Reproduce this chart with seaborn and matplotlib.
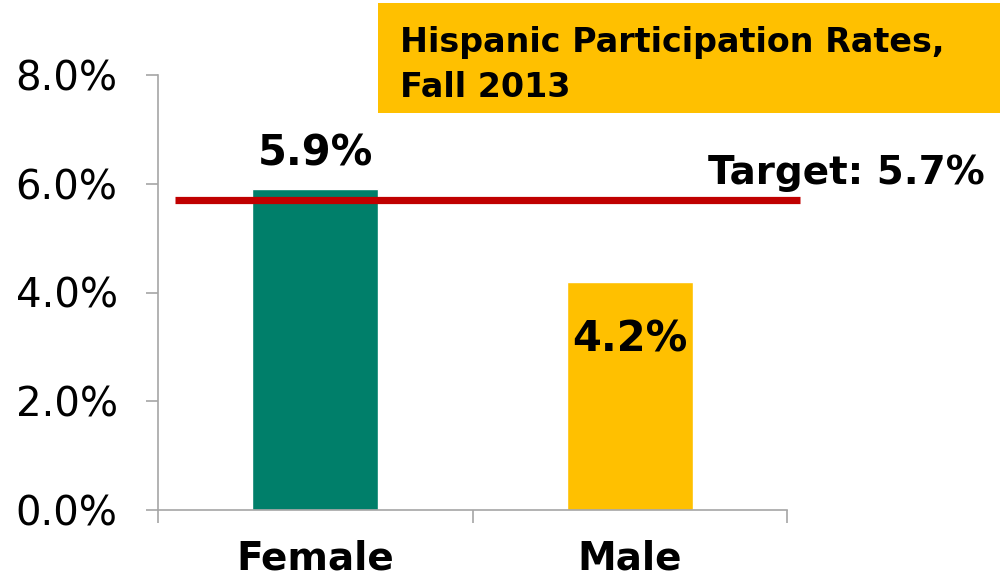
import matplotlib
matplotlib.use("Agg")
import matplotlib.pyplot as plt
import seaborn as sns
import pandas as pd
from matplotlib.patches import Rectangle
from matplotlib.ticker import FixedLocator

# Chart data
categories = ["Female", "Male"]
rates = [5.9, 4.2]
bar_colors = ["#007F6A", "#FFC000"]
target = 5.7
y_ticks = [0, 2, 4, 6, 8]
title_lines = ["Hispanic Participation Rates,", "Fall 2013"]

sns.set_style("ticks")
plt.rcParams["font.family"] = ["DejaVu Sans"]
plt.rcParams["text.color"] = "black"

W, H = 1008, 584
fig = plt.figure(figsize=(W / 100, H / 100), dpi=100)
fig.patch.set_facecolor("white")

# Title box behind the plot area
fig.add_artist(Rectangle((378 / W, 1 - 113 / H), 622 / W, 110 / H,
                         transform=fig.transFigure, facecolor="#FFC000",
                         edgecolor="none", zorder=-1))
for line, base in zip(title_lines, [52, 97]):
    fig.text(400 / W, 1 - base / H, line, ha="left", va="baseline",
             fontsize=24, fontweight="bold", color="black", zorder=-0.5)

ax = fig.add_axes([158 / W, 1 - 510 / H, (787 - 158) / W, (510 - 75) / H])
ax.patch.set_alpha(0)

df = pd.DataFrame({"gender": categories, "rate": rates})
sns.barplot(data=df, x="gender", y="rate", hue="gender", palette=bar_colors,
            width=0.4, saturation=1, legend=False, ax=ax, zorder=2)

ax.set_xlim(-0.5, len(categories) - 0.5)
ax.set_ylim(0, 8)
ax.set_xlabel("")
ax.set_ylabel("")

# y axis: percent labels with outward ticks
ax.set_yticks(y_ticks)
ax.set_yticklabels([f"{v:.1f}%" for v in y_ticks])
ax.tick_params(axis="y", left=True, length=9, width=1.2, color="#A6A6A6",
               pad=20, labelsize=29, labelcolor="black")

# x axis: labels at category centres, ticks at category boundaries
ax.xaxis.set_minor_locator(FixedLocator([i - 0.5 for i in range(len(categories) + 1)]))
ax.tick_params(axis="x", which="major", length=0, pad=21, labelsize=28,
               labelcolor="black")
ax.tick_params(axis="x", which="minor", bottom=True, length=9, width=1.2,
               color="#A6A6A6")
for lab in ax.get_xticklabels():
    lab.set_fontweight("bold")

for side in ("top", "right"):
    ax.spines[side].set_visible(False)
for side in ("left", "bottom"):
    ax.spines[side].set_color("#A6A6A6")
    ax.spines[side].set_linewidth(1.2)

# Target line
ytrans = ax.get_yaxis_transform()
ax.plot([0.027, 1.0207], [target, target], transform=ytrans, color="#C00000",
        lw=5.2, solid_capstyle="butt", clip_on=False, zorder=5)
ax.annotate(f"Target: {target:.1f}%", xy=(0.874, target), xycoords=ytrans,
            xytext=(0, 11.5), textcoords="offset points", ha="left",
            va="baseline", fontsize=28, fontweight="bold", color="black",
            annotation_clip=False)

# Value labels: above the first bar, inside the second
offsets = [17, -50]
for i, (v, off) in enumerate(zip(rates, offsets)):
    ax.annotate(f"{v:.1f}%", xy=(i, v), xytext=(0, off),
                textcoords="offset points", ha="center", va="baseline",
                fontsize=30, fontweight="bold", color="black", zorder=6)

fig.savefig("out.png", dpi=100)
